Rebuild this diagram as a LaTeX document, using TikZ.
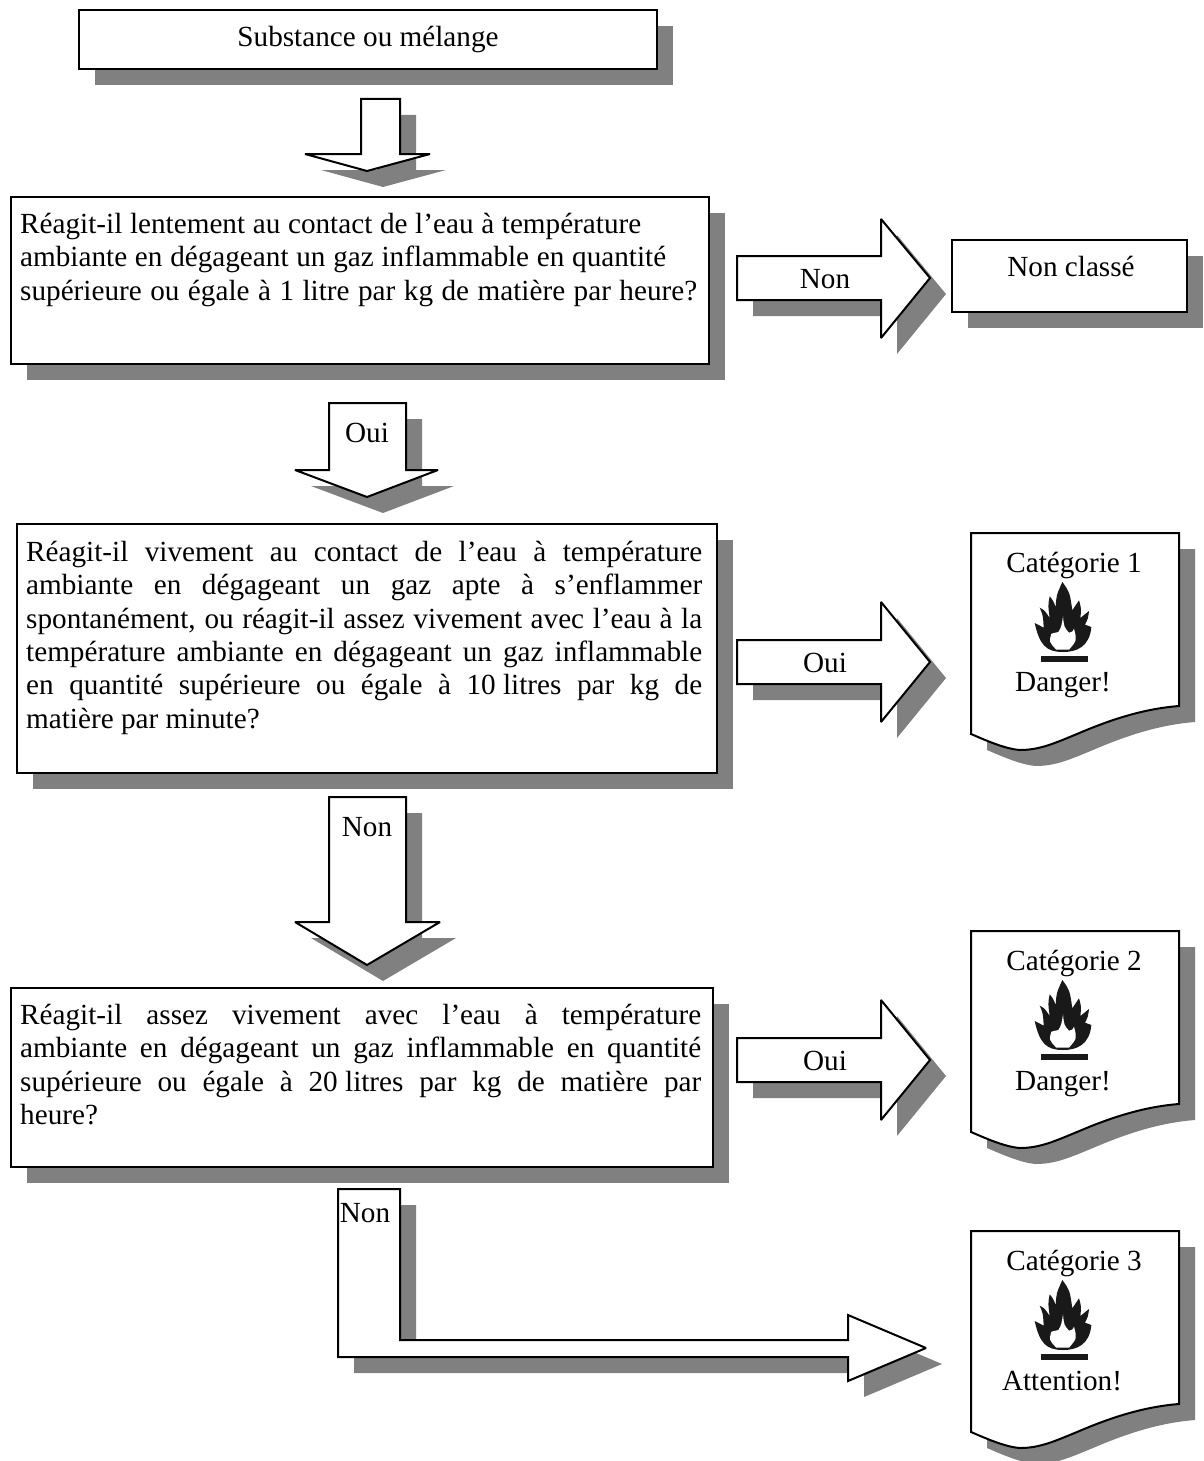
\documentclass[tikz,border=0pt]{standalone}
\usepackage{fontspec}
\setmainfont{Liberation Serif}
\hyphenpenalty=10000
\newcommand{\shp}[1]{\fill[shadowfill,xshift=16pt,yshift=-16pt] #1 -- cycle; \draw[outl] #1 -- cycle;}
\newcommand{\docpath}[1]{(971,#1) -- (1179,#1) -- (1179,#1+173) .. controls (1140,#1+176) and (1105,#1+189) .. (1077,#1+201) .. controls (1055,#1+210) and (1040,#1+217) .. (1020,#1+217) .. controls (1005,#1+216) and (985,#1+207) .. (971,#1+201)}
\tikzset{
  x=1pt,y=-1pt,
  shadowfill/.style={fill=black!50,draw=none},
  outl/.style={draw=black,fill=white,line width=2pt,line join=miter,miter limit=2.5},
  txt/.style={font=\fontsize{29.2}{33.3}\selectfont,inner sep=0pt,anchor=base},
  para/.style={font=\fontsize{29.2}{33.3}\selectfont,inner sep=0pt,anchor=north west,align=justify},
  flame/.pic={
    \fill[black!90] (0,210) .. controls (-50,210) and (-70,190) .. (-85,123) .. controls (-75,128) .. (-58,137) .. controls (-60,100) .. (-70,77) .. controls (-55,85) .. (-40,108) .. controls (-45,70) .. (-40,43) .. controls (-30,55) .. (-22,75) .. controls (-20,40) .. (-2,0) .. controls (20,30) .. (28,85) .. controls (38,70) .. (48,55) .. controls (55,80) .. (52,108) .. controls (65,100) .. (78,87) .. controls (75,110) .. (66,128) .. controls (75,130) .. (85,135) .. controls (80,195) and (40,210) .. (0,210) -- cycle;
    \fill[white] (0,103) .. controls (3,135) .. (18,152) .. controls (28,150) .. (33,140) .. controls (42,175) .. (18,203) -- (-20,203) .. controls (-42,180) .. (-35,155) .. controls (-25,155) .. (-14,150) .. controls (-5,135) .. (0,103) -- cycle;
    \fill[black!90] (-67,223) rectangle (75,241);
  }
}
\begin{document}
\begin{tikzpicture}
\useasboundingbox (0,0) rectangle (1203,1461);
% boxes
\shp{(79,10) -- (657,10) -- (657,69) -- (79,69)}
\shp{(11,197) -- (709,197) -- (709,364) -- (11,364)}
\shp{(952,240) -- (1187,240) -- (1187,312) -- (952,312)}
\shp{(17,524) -- (717,524) -- (717,773) -- (17,773)}
\shp{(11,988) -- (713,988) -- (713,1167) -- (11,1167)}
% down arrows
\shp{(361,99) -- (400,99) -- (400,154) -- (430,154) -- (367,171) -- (305,154) -- (361,154)}
\shp{(329,403) -- (406,403) -- (406,470) -- (438,470) -- (367,497) -- (295,470) -- (329,470)}
\shp{(329,797) -- (406,797) -- (406,922) -- (440,922) -- (367,965) -- (295,922) -- (329,922)}
% right arrows
\shp{(737,256) -- (881,256) -- (881,219) -- (930,278) -- (881,338) -- (881,300) -- (737,300)}
\shp{(737,640) -- (881,640) -- (881,602) -- (930,662) -- (881,722) -- (881,684) -- (737,684)}
\shp{(737,1038) -- (881,1038) -- (881,1000) -- (930,1060) -- (881,1120) -- (881,1082) -- (737,1082)}
% L arrow
\shp{(338,1189) -- (400,1189) -- (400,1340) -- (848,1340) -- (848,1315) -- (926,1348) -- (848,1381) -- (848,1357) -- (338,1357)}
% documents
\shp{\docpath{533}}
\shp{\docpath{931}}
\shp{\docpath{1231}}
\pic at (1063,582) [scale=1/3*1] {flame};
\pic at (1063,980) [scale=1/3*1] {flame};
\pic at (1063,1280) [scale=1/3*1] {flame};
% texts
\node[txt] (t0) at (368,46.5) {Substance ou mélange};
\node[para,text width=685pt,align=left] (t1) at (20,213) {\spaceskip=5.55pt plus 6pt\makebox[621pt][s]{Réagit-il lentement au contact de l’eau à température}\\\makebox[646pt][s]{ambiante en dégageant un gaz inflammable en quantité}\\\makebox[677pt][s]{supérieure ou égale à 1 litre par kg de matière par heure?}};
\node[para,text width=676pt] (t2) at (26,541) {Réagit-il vivement au contact de l’eau à température\linebreak ambiante en dégageant un gaz apte à s’enflammer\linebreak spontanément, ou réagit-il assez vivement avec l’eau à la\linebreak température ambiante en dégageant un gaz inflammable\linebreak en quantité supérieure ou égale à \mbox{10 litres} par kg de\linebreak matière par minute?};
\node[para,text width=681pt] (t3) at (20,1004) {Réagit-il assez vivement avec l’eau à température\linebreak ambiante en dégageant un gaz inflammable en quantité\linebreak supérieure ou égale à \mbox{20 litres} par kg de matière par\linebreak heure?};
\node[txt] (n1) at (825,288) {Non};
\node[txt] (n2) at (1071,276) {Non classé};
\node[txt] (o1) at (367,442) {Oui};
\node[txt] (o2) at (825,672) {Oui};
\node[txt] (n3) at (367,836) {Non};
\node[txt] (o3) at (825,1070) {Oui};
\node[txt] (n4) at (365,1222) {Non};
\node[txt] (c1) at (1074,572) {Catégorie 1};
\node[txt] (d1) at (1063,691) {Danger!};
\node[txt] (c2) at (1074,970) {Catégorie 2};
\node[txt] (d2) at (1063,1090) {Danger!};
\node[txt] (c3) at (1074,1270) {Catégorie 3};
\node[txt] (a3) at (1062,1390) {Attention!};
\end{tikzpicture}
\end{document}
